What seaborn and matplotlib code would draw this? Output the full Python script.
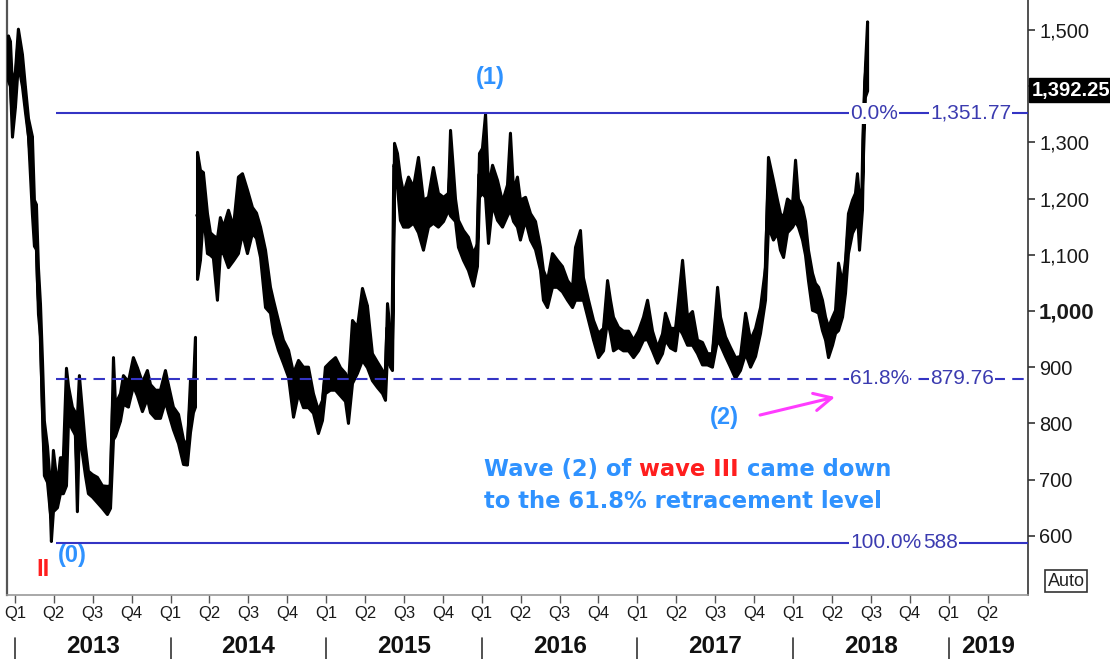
import numpy as np
import pandas as pd
import matplotlib
matplotlib.use("Agg")
import matplotlib.pyplot as plt
import matplotlib.transforms as mtrans
from matplotlib import font_manager
import seaborn as sns

# ---------------- data (time in decimal years, price low / high) ----------------
seg1_t = [2012.955, 2012.968, 2012.981, 2013.000, 2013.019, 2013.045, 2013.064, 2013.084, 2013.109, 2013.122,
          2013.135, 2013.148, 2013.161, 2013.174, 2013.186, 2013.206, 2013.225, 2013.231, 2013.244, 2013.270,
          2013.289, 2013.308, 2013.328, 2013.341, 2013.366, 2013.386, 2013.398, 2013.411, 2013.431, 2013.450,
          2013.469, 2013.495, 2013.527, 2013.559, 2013.591, 2013.611, 2013.630, 2013.643, 2013.675, 2013.694,
          2013.726, 2013.758, 2013.784, 2013.816, 2013.848, 2013.868, 2013.900, 2013.932, 2013.964, 2013.983,
          2014.015, 2014.048, 2014.080, 2014.105, 2014.125, 2014.144, 2014.157]
seg1_lo = [1410, 1400, 1310, 1363, 1440, 1400, 1355, 1311, 1173, 1116,
           1110, 995, 956, 817, 708, 696, 640, 591, 644, 651,
           676, 676, 690, 805, 790, 780, 644, 790, 746, 708,
           676, 670, 660, 650, 639, 650, 772, 778, 805, 835,
           830, 867, 850, 822, 845, 820, 810, 810, 840, 820,
           790, 765, 728, 727, 785, 820, 830]
seg1_hi = [1490, 1480, 1400, 1427, 1502, 1457, 1400, 1343, 1311, 1198,
           1190, 1077, 1013, 911, 805, 760, 690, 676, 753, 690,
           740, 740, 899, 867, 830, 820, 810, 886, 822, 760,
           716, 710, 705, 690, 689, 690, 918, 835, 854, 886,
           875, 918, 900, 874, 895, 870, 860, 860, 895, 870,
           830, 817, 772, 760, 879, 870, 954]

seg2_t = [2014.170, 2014.189, 2014.208, 2014.234, 2014.253, 2014.272, 2014.298, 2014.317, 2014.337, 2014.369,
          2014.401, 2014.433, 2014.459, 2014.491, 2014.523, 2014.549, 2014.575, 2014.607, 2014.639, 2014.658,
          2014.690, 2014.722, 2014.755, 2014.787, 2014.819, 2014.851, 2014.883, 2014.915, 2014.947, 2014.973,
          2014.992, 2015.024, 2015.057, 2015.089, 2015.121, 2015.140, 2015.166, 2015.198, 2015.230, 2015.262,
          2015.294, 2015.326, 2015.359, 2015.378, 2015.391, 2015.410, 2015.423, 2015.436, 2015.455, 2015.474,
          2015.494, 2015.526, 2015.558, 2015.590, 2015.622, 2015.654, 2015.686, 2015.718, 2015.751, 2015.783,
          2015.796, 2015.828, 2015.847, 2015.879, 2015.911, 2015.943, 2015.969, 2015.982, 2016.001, 2016.021,
          2016.040, 2016.066, 2016.098, 2016.130, 2016.162, 2016.181, 2016.201, 2016.226, 2016.245, 2016.278,
          2016.310, 2016.342, 2016.374, 2016.393, 2016.419, 2016.451, 2016.483, 2016.515, 2016.548, 2016.580,
          2016.599, 2016.631, 2016.650, 2016.683, 2016.715, 2016.747, 2016.779, 2016.805, 2016.824, 2016.843,
          2016.875, 2016.907, 2016.940, 2016.972, 2017.004, 2017.036, 2017.062, 2017.094, 2017.126, 2017.158,
          2017.177, 2017.210, 2017.242, 2017.261, 2017.287, 2017.319, 2017.351, 2017.383, 2017.415, 2017.447,
          2017.479, 2017.512, 2017.531, 2017.563, 2017.595, 2017.627, 2017.659, 2017.692, 2017.724, 2017.756,
          2017.788, 2017.820, 2017.839, 2017.871, 2017.897, 2017.916, 2017.936, 2017.961, 2017.994, 2018.013,
          2018.032, 2018.058, 2018.077, 2018.096, 2018.122, 2018.141, 2018.161, 2018.186, 2018.206, 2018.225,
          2018.251, 2018.270, 2018.289, 2018.315, 2018.334, 2018.353, 2018.379, 2018.398, 2018.411, 2018.424,
          2018.443, 2018.450, 2018.462, 2018.476]
seg2_lo = [1057, 1091, 1174, 1103, 1100, 1095, 1020, 1103, 1103, 1078,
           1090, 1103, 1139, 1103, 1139, 1130, 1096, 1007, 997, 961,
           931, 908, 883, 812, 854, 829, 829, 819, 783, 806,
           854, 860, 860, 850, 840, 801, 872, 890, 913, 900,
           877, 865, 854, 842, 925, 901, 895, 1220, 1221, 1162,
           1150, 1150, 1157, 1140, 1109, 1150, 1157, 1150, 1160, 1180,
           1170, 1160, 1114, 1091, 1073, 1045, 1080, 1203, 1210, 1203,
           1121, 1190, 1162, 1150, 1170, 1180, 1160, 1150, 1127, 1162,
           1127, 1110, 1073, 1020, 1007, 1043, 1043, 1035, 1020, 1007,
           1020, 1020, 1020, 984, 949, 918, 930, 984, 960, 930,
           936, 930, 930, 918, 930, 949, 950, 930, 908, 925,
           949, 935, 930, 972, 960, 940, 940, 925, 905, 905,
           901, 949, 940, 920, 901, 881, 895, 925, 901, 920,
           961, 1020, 1150, 1127, 1139, 1109, 1096, 1140, 1150, 1160,
           1150, 1127, 1100, 1055, 1002, 1000, 997, 966, 949, 918,
           940, 961, 966, 990, 1032, 1103, 1139, 1150, 1174, 1109,
           1180, 1281, 1381, 1392]
seg2_hi = [1283, 1251, 1247, 1174, 1140, 1135, 1130, 1167, 1150, 1180,
           1150, 1239, 1245, 1216, 1185, 1175, 1150, 1109, 1043, 1020,
           984, 949, 931, 890, 913, 901, 901, 854, 824, 842,
           901, 910, 918, 900, 890, 872, 984, 972, 1041, 1010,
           925, 910, 895, 885, 1014, 961, 950, 1299, 1281, 1239,
           1210, 1239, 1221, 1274, 1198, 1203, 1256, 1210, 1203, 1210,
           1322, 1200, 1162, 1144, 1132, 1103, 1120, 1281, 1290, 1351,
           1221, 1260, 1233, 1195, 1225, 1317, 1215, 1239, 1198, 1203,
           1174, 1160, 1114, 1073, 1055, 1103, 1091, 1080, 1055, 1043,
           1114, 1144, 1060, 1020, 984, 961, 970, 1055, 1020, 990,
           972, 965, 965, 949, 965, 990, 1020, 965, 936, 960,
           997, 970, 970, 1020, 1091, 990, 1000, 949, 945, 925,
           925, 1043, 990, 955, 936, 918, 920, 997, 949, 970,
           1007, 1078, 1274, 1233, 1198, 1174, 1167, 1200, 1192, 1269,
           1200, 1185, 1160, 1109, 1068, 1050, 1043, 1020, 990, 972,
           990, 1002, 1086, 1050, 1091, 1174, 1198, 1210, 1245, 1200,
           1221, 1327, 1434, 1515]

last_price = 1392.25
last_price_label = "1,392.25"
fib_levels = [1351.77, 879.76, 588.0]
fib_pcts = ["0.0%", "61.8%", "100.0%"]
fib_values = ["1,351.77", "879.76", "588"]
fib_start = 2013.263
y_ticks = [600, 700, 800, 900, 1000, 1100, 1200, 1300, 1400, 1500]
y_tick_labels = ["600", "700", "800", "900", "1,000", "1,100", "1,200", "1,300", "", "1,500"]
quarter_names = ["Q1", "Q2", "Q3", "Q4"]
years = [2013, 2014, 2015, 2016, 2017, 2018, 2019]

# ---------------- style ----------------
sns.set_theme(style="white")
plt.rcParams["font.family"] = ["Liberation Sans", "DejaVu Sans"]
installed = {f.name for f in font_manager.fontManager.ttflist}
if "Liberation Sans Narrow" in installed:
    year_font, year_size = "Liberation Sans Narrow", 21
else:
    year_font, year_size = "Liberation Sans", 17.5

FIB_LINE = "#3434C4"
FIB_TEXT = "#3B3BB0"
BLUE = "#2F92FF"
RED = "#FF1E1E"
MAGENTA = "#FF3CFF"

W, H = 1110, 659
fig = plt.figure(figsize=(W / 100, H / 100), dpi=100)
ax = fig.add_axes([7 / W, 64 / H, 1021 / W, 595 / H])

x_left, x_right = 2012.949, 2019.510

df = pd.concat([
    pd.DataFrame({"t": seg1_t, "lo": seg1_lo, "hi": seg1_hi, "seg": 1}),
    pd.DataFrame({"t": seg2_t, "lo": seg2_lo, "hi": seg2_hi, "seg": 2}),
], ignore_index=True)
df["mid"] = (df["lo"] + df["hi"]) / 2

for s, g in df.groupby("seg"):
    ax.fill_between(g["t"], g["lo"], g["hi"], facecolor="black", edgecolor="black", lw=2.2, zorder=3)
ax.vlines(df["t"], df["lo"], df["hi"], color="black", lw=2.0, zorder=3)
sns.lineplot(data=df, x="t", y="mid", units="seg", estimator=None, color="black",
             lw=2.5, ax=ax, zorder=3, legend=False)

# Fibonacci levels
styles = ["solid", (0, (5.5, 3.5)), "solid"]
for lvl, st in zip(fib_levels, styles):
    ax.hlines(lvl, fib_start, x_right, colors=FIB_LINE, lw=1.5, linestyles=st, zorder=4)
val_x = [2018.880, 2018.880, 2018.835]
for lvl, p, v, vx in zip(fib_levels, fib_pcts, fib_values, val_x):
    ax.text(2018.366, lvl, p, ha="left", va="center", color=FIB_TEXT, fontsize=15,
            bbox=dict(fc="white", ec="none", pad=0.6), zorder=6)
    ax.text(vx, lvl, v, ha="left", va="center", color=FIB_TEXT, fontsize=15,
            bbox=dict(fc="white", ec="none", pad=0.6), zorder=6)

# wave labels
ax.text(2016.053, 1416, "(1)", color=BLUE, fontsize=17, fontweight="bold", ha="center", va="center", zorder=6)
ax.text(2017.557, 810, "(2)", color=BLUE, fontsize=17, fontweight="bold", ha="center", va="center", zorder=6)
ax.text(2013.366, 566, "(0)", color=BLUE, fontsize=17, fontweight="bold", ha="center", va="center", zorder=6)
ax.text(2013.180, 541, "II", color=RED, fontsize=17, fontweight="bold", ha="center", va="center", zorder=6)

# message
msg_kw = dict(fontsize=16.3, fontweight="bold", family="DejaVu Sans", va="bottom", ha="left", zorder=6)
t1 = ax.text(2016.014, 706.7, "Wave (2) of", color=BLUE, **msg_kw)
t1.set_va("baseline")
t2 = ax.annotate("wave III", xy=(1, 0), xycoords=t1, xytext=(5.7, 0), textcoords="offset points",
                 color=RED, **msg_kw)
t3 = ax.annotate("came down", xy=(1, 0), xycoords=t2, xytext=(5.7, 0), textcoords="offset points",
                 color=BLUE, **msg_kw)
t4 = ax.text(2016.014, 649.8, "to the 61.8% retracement level", color=BLUE, **msg_kw)
t4.set_va("baseline")

# magenta arrow
ax.annotate("", xy=(2018.270, 847), xytext=(2017.788, 815),
            arrowprops=dict(arrowstyle="->,head_length=0.7,head_width=0.35", color=MAGENTA,
                            lw=2.2, mutation_scale=18, shrinkA=0, shrinkB=0), zorder=6)

# axes / ticks
ax.set_xlim(x_left, x_right)
ax.set_ylim(495, 1553)
ax.set_xlabel("")
ax.set_ylabel("")
ax.yaxis.tick_right()
ax.set_yticks(y_ticks)
ax.set_yticklabels(y_tick_labels)
ax.tick_params(axis="y", which="both", right=True, left=False, length=5, width=1.2,
               color="#333333", labelcolor="#1a1a1a", labelsize=14.4, pad=3)
for lab in ax.get_yticklabels():
    if lab.get_text() == "1,000":
        lab.set_fontweight("bold")
        lab.set_fontsize(16)

qt = np.arange(2013, 2019.26, 0.25)
ax.set_xticks(qt)
ax.set_xticklabels([quarter_names[i % 4] for i in range(len(qt))])
ax.tick_params(axis="x", which="both", bottom=True, length=6, width=1, color="#555555",
               labelcolor="#1a1a1a", labelsize=12, pad=2)

ax.spines["top"].set_visible(False)
ax.spines["left"].set_color("#555555")
ax.spines["left"].set_linewidth(1.6)
ax.spines["right"].set_color("#333333")
ax.spines["right"].set_linewidth(1.2)
ax.spines["bottom"].set_color("#999999")
ax.spines["bottom"].set_linewidth(1.2)
ax.grid(False)

# year dividers and labels
trans_x = mtrans.blended_transform_factory(ax.transData, ax.transAxes)
for y in years:
    ax.plot([y, y], [-0.072, -0.11], transform=trans_x, color="#333333", lw=1.2, clip_on=False)
    lo_edge, hi_edge = max(y, x_left), min(y + 1, x_right)
    ax.text((lo_edge + hi_edge) / 2, -0.087, str(y), transform=trans_x, ha="center", va="center",
            fontsize=year_size, fontweight="bold", family=year_font, color="#111111", clip_on=False)

# last-price box
trans_y = mtrans.blended_transform_factory(ax.transAxes, ax.transData)
ax.text(1.0035, last_price, last_price_label, transform=trans_y, ha="left", va="center",
        color="white", fontsize=14.5, fontweight="bold", clip_on=False, zorder=7,
        bbox=dict(boxstyle="square,pad=0.12", fc="black", ec="black"))

# Auto box
fig.text(1066 / W, 1 - 581 / H, "Auto", ha="center", va="center", fontsize=13, color="#222222",
         bbox=dict(boxstyle="square,pad=0.12", fc="white", ec="#333333", lw=1.2))

fig.savefig("out.png", dpi=100)
